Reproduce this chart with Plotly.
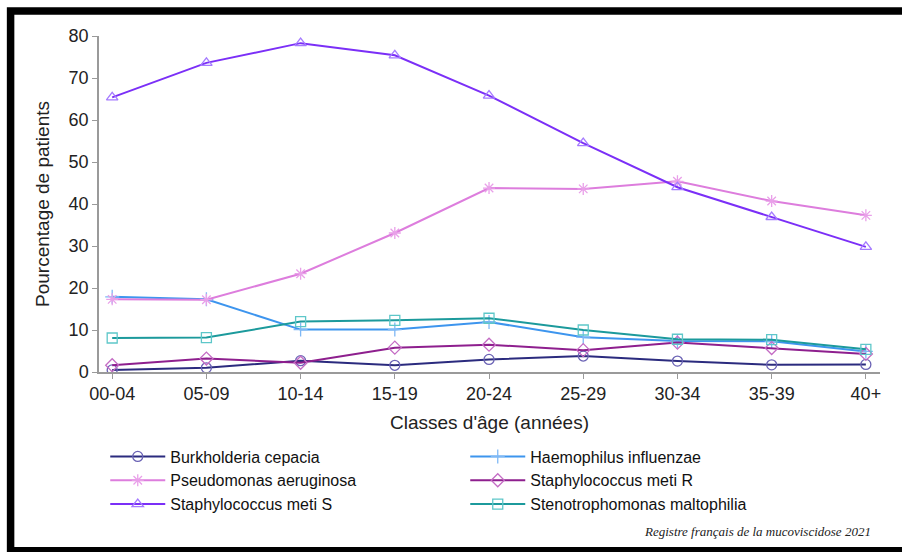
import plotly.graph_objects as go

age_classes = ["00-04", "05-09", "10-14", "15-19", "20-24", "25-29", "30-34", "35-39", "40+"]

burkholderia = [0.5, 1.0, 2.7, 1.6, 3.0, 3.8, 2.6, 1.7, 1.8]
haemophilus = [17.9, 17.3, 10.1, 10.1, 11.9, 8.3, 7.4, 7.3, 4.9]
pseudomonas = [17.3, 17.2, 23.4, 33.1, 43.8, 43.6, 45.4, 40.7, 37.3]
staph_meti_r = [1.6, 3.2, 2.2, 5.8, 6.5, 5.2, 7.0, 5.7, 4.3]
staph_meti_s = [65.4, 73.6, 78.3, 75.4, 65.8, 54.5, 44.0, 36.9, 29.8]
stenotrophomonas = [8.1, 8.2, 12.0, 12.3, 12.8, 10.0, 7.8, 7.7, 5.4]

series = [
    ("Burkholderia cepacia", burkholderia, "#2b2b7e", "#6b63b5", "circle-open"),
    ("Haemophilus influenzae", haemophilus, "#3d95ee", "#7fb8f5", "cross-thin-open"),
    ("Pseudomonas aeruginosa", pseudomonas, "#dd7ddd", "#e9a0e9", "asterisk-open"),
    ("Staphylococcus meti R", staph_meti_r, "#8e1f8e", "#c46cc4", "diamond-open"),
    ("Staphylococcus meti S", staph_meti_s, "#7b2ff7", "#a57bff", "triangle-up-open"),
    ("Stenotrophomonas maltophilia", stenotrophomonas, "#1c9a9c", "#5ec7c9", "square-open"),
]

fig = go.Figure()
for name, values, line_color, marker_color, symbol in series:
    fig.add_trace(go.Scatter(
        x=age_classes, y=values, name=name, mode="lines+markers",
        line=dict(color=line_color, width=2),
        marker=dict(symbol=symbol, size=10, color=marker_color,
                    line=dict(color=marker_color, width=1.3)),
    ))

sans = "Liberation Sans, Arial, sans-serif"
tick_font = dict(family=sans, size=18, color="#222")
title_font = dict(family=sans, size=19, color="#222")

fig.update_layout(
    width=902, height=552,
    margin=dict(l=99, r=22, t=36, b=180),
    paper_bgcolor="white", plot_bgcolor="white",
    font=tick_font,
    showlegend=True,
    legend=dict(
        orientation="h", x=0.008, y=-0.201, xanchor="left", yanchor="top",
        font=dict(family=sans, size=16, color="#111"),
        itemwidth=55, entrywidth=290, entrywidthmode="pixels",
        tracegroupgap=0, bgcolor="rgba(0,0,0,0)",
    ),
    xaxis=dict(
        type="category", range=[-0.14, 8.15], showgrid=False, zeroline=False,
        showline=True, linecolor="#9a9a9a", linewidth=1.5,
        ticks="outside", ticklen=5, tickcolor="#9a9a9a",
        tickfont=tick_font,
        title=dict(text="Classes d'âge (années)", font=title_font, standoff=12),
    ),
    yaxis=dict(
        range=[0, 80], dtick=10, showgrid=False, zeroline=False,
        showline=True, linecolor="#9a9a9a", linewidth=1.5,
        ticks="outside", ticklen=5, tickcolor="#9a9a9a",
        tickfont=tick_font,
        title=dict(text="Pourcentage de patients", font=title_font, standoff=14),
    ),
    shapes=[dict(
        type="rect", xref="paper", yref="paper",
        x0=-0.1132, x1=1.05, y0=-0.532, y1=1.0745,
        line=dict(color="black", width=7.5), fillcolor="rgba(0,0,0,0)",
        layer="below",
    )],
    annotations=[dict(
        text="Registre français de la mucoviscidose 2021",
        xref="paper", yref="paper", x=0.991, y=-0.476,
        xanchor="right", yanchor="middle", showarrow=False,
        font=dict(family="Liberation Serif, Times New Roman, serif", size=13,
                  color="#222", style="italic"),
    )],
)

fig.write_html("out.html")
